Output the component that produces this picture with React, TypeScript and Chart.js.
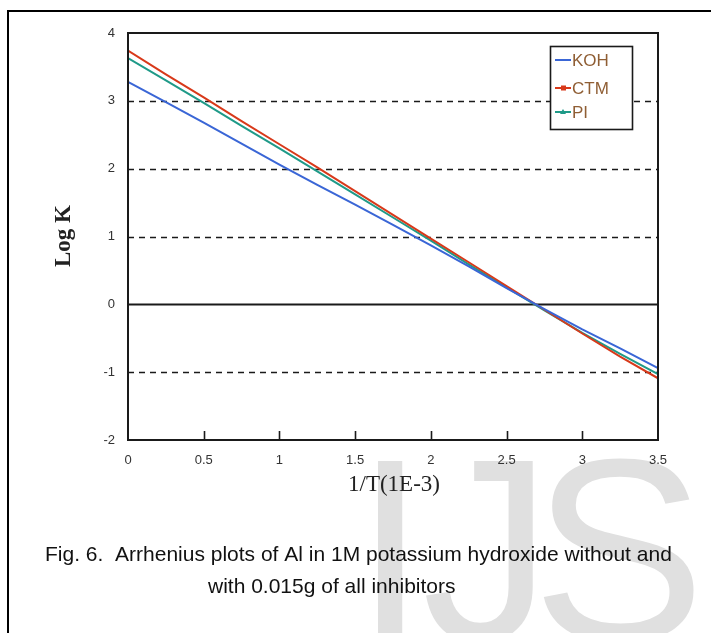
import React, { useEffect, useRef } from "react";
import { Chart, registerables } from "chart.js";

Chart.register(...registerables);

const invT = [0, 0.25, 0.5, 0.75, 1, 1.25, 1.5, 1.75, 2, 2.25, 2.5, 2.75, 3, 3.25, 3.5];
const kohLogK = [3.28, 2.98, 2.68, 2.37, 2.06, 1.76, 1.47, 1.17, 0.87, 0.56, 0.24, -0.07, -0.37, -0.65, -0.94];
const ctmLogK = [3.74, 3.39, 3.05, 2.7, 2.36, 2.02, 1.67, 1.32, 0.97, 0.62, 0.27, -0.08, -0.43, -0.77, -1.09];
const piLogK = [3.63, 3.3, 2.97, 2.63, 2.3, 1.96, 1.62, 1.28, 0.94, 0.59, 0.25, -0.09, -0.42, -0.73, -1.03];

const seriesNames = ["KOH", "CTM", "PI"];
const seriesColors = ["#3a66d6", "#d8391a", "#1f9a88"];
const xMin = 0;
const xMax = 3.5;
const xStep = 0.5;
const yMin = -2;
const yMax = 4;
const yStep = 1;
const xTitle = "1/T(1E-3)";
const yTitle = "Log K";
const captionLine1 = "Fig. 6.  Arrhenius plots of Al in 1M potassium hydroxide without and";
const captionLine2 = "with 0.015g of all inhibitors";
const watermark = ["I", "J", "S"];

const SANS = "'Liberation Sans', Arial, sans-serif";
const SERIF = "'Liberation Serif', 'Times New Roman', serif";

const pagePlugin = {
  id: "page",
  beforeDraw(chart: any) {
    const ctx = chart.ctx;
    ctx.save();
    ctx.fillStyle = "#ffffff";
    ctx.fillRect(0, 0, chart.width, chart.height);
    // watermark
    ctx.fillStyle = "#e0e0e0";
    ctx.font = `260px ${SANS}`;
    ctx.textBaseline = "alphabetic";
    ctx.textAlign = "left";
    const wx = [354, 422, 532];
    watermark.forEach((ch, i) => ctx.fillText(ch, wx[i], 640));
    // outer frame
    ctx.strokeStyle = "#000";
    ctx.lineWidth = 2;
    ctx.beginPath();
    ctx.moveTo(8, chart.height);
    ctx.lineTo(8, 11);
    ctx.lineTo(chart.width, 11);
    ctx.stroke();
    // caption
    ctx.fillStyle = "#111";
    ctx.font = `21px ${SANS}`;
    ctx.fillText(captionLine1, 45, 561);
    ctx.fillText(captionLine2, 208, 593);
    ctx.restore();
  },
  beforeDatasetsDraw(chart: any) {
    const ctx = chart.ctx;
    const { left, right } = chart.chartArea;
    const ys = chart.scales.y;
    ctx.save();
    ctx.strokeStyle = "#1a1a1a";
    for (let v = yMin + yStep; v < yMax; v += yStep) {
      const py = Math.round(ys.getPixelForValue(v)) + 0.5;
      ctx.setLineDash(v === 0 ? [] : [6, 5]);
      ctx.lineWidth = v === 0 ? 1.8 : 1.6;
      ctx.beginPath();
      ctx.moveTo(left, py);
      ctx.lineTo(right, py);
      ctx.stroke();
    }
    ctx.restore();
  },
  afterDatasetsDraw(chart: any) {
    const ctx = chart.ctx;
    const { left, right, top, bottom } = chart.chartArea;
    const xs = chart.scales.x;
    ctx.save();
    ctx.strokeStyle = "#1a1a1a";
    ctx.lineWidth = 2;
    ctx.setLineDash([]);
    ctx.strokeRect(left, top, right - left, bottom - top);
    ctx.lineWidth = 1.6;
    for (let v = xMin + xStep; v < xMax; v += xStep) {
      const px = Math.round(xs.getPixelForValue(v)) + 0.5;
      ctx.beginPath();
      ctx.moveTo(px, bottom);
      ctx.lineTo(px, bottom - 9);
      ctx.stroke();
    }
    ctx.restore();
  },
  afterDraw(chart: any) {
    const ctx = chart.ctx;
    ctx.save();
    ctx.fillStyle = "#222";
    ctx.textAlign = "center";
    ctx.textBaseline = "middle";
    ctx.font = `23px ${SERIF}`;
    ctx.fillText(xTitle, 394, 485);
    ctx.translate(64, 236);
    ctx.rotate(-Math.PI / 2);
    ctx.font = `bold 23px ${SERIF}`;
    ctx.fillText(yTitle, 0, 0);
    ctx.restore();

    // legend
    ctx.save();
    const bx = 550, by = 46, bw = 82, bh = 83;
    ctx.fillStyle = "#fff";
    ctx.fillRect(bx, by, bw, bh);
    ctx.strokeStyle = "#1a1a1a";
    ctx.lineWidth = 1.6;
    ctx.strokeRect(bx + 0.5, by + 0.5, bw, bh);
    const rowY = [60, 88, 112];
    ctx.font = `17px ${SANS}`;
    ctx.textAlign = "left";
    ctx.textBaseline = "middle";
    seriesNames.forEach((name, i) => {
      const yy = rowY[i];
      ctx.strokeStyle = seriesColors[i];
      ctx.lineWidth = 2;
      ctx.beginPath();
      ctx.moveTo(555, yy);
      ctx.lineTo(571, yy);
      ctx.stroke();
      ctx.fillStyle = seriesColors[i];
      if (i === 1) ctx.fillRect(561, yy - 2.5, 5, 5);
      if (i === 2) {
        ctx.beginPath();
        ctx.moveTo(563, yy - 3);
        ctx.lineTo(566, yy + 2);
        ctx.lineTo(560, yy + 2);
        ctx.closePath();
        ctx.fill();
      }
      ctx.fillStyle = "#8f5e34";
      ctx.fillText(name, 572, yy + 1);
    });
    ctx.restore();
  },
};

export default function App() {
  const ref = useRef<HTMLCanvasElement | null>(null);
  useEffect(() => {
    if (!ref.current) return;
    const mk = (vals: number[]) => invT.map((x, i) => ({ x, y: vals[i] }));
    const chart = new Chart(ref.current, {
      type: "line",
      data: {
        datasets: [
          { label: seriesNames[0], data: mk(kohLogK), borderColor: seriesColors[0], backgroundColor: seriesColors[0], borderWidth: 2, pointRadius: 0, tension: 0 },
          { label: seriesNames[1], data: mk(ctmLogK), borderColor: seriesColors[1], backgroundColor: seriesColors[1], borderWidth: 2, pointRadius: 0, tension: 0 },
          { label: seriesNames[2], data: mk(piLogK), borderColor: seriesColors[2], backgroundColor: seriesColors[2], borderWidth: 2, pointRadius: 0, tension: 0 },
        ],
      },
      options: {
        responsive: false,
        animation: false,
        layout: { padding: { top: 33, right: 53, left: 0, bottom: 0 } },
        plugins: { legend: { display: false }, tooltip: { enabled: false } },
        scales: {
          x: {
            type: "linear",
            min: xMin,
            max: xMax,
            afterFit: (s: any) => { s.height = 193; },
            grid: { display: false, drawTicks: false },
            border: { display: false },
            ticks: {
              stepSize: xStep,
              padding: 13,
              color: "#333",
              font: { family: SANS, size: 13 },
              callback: (v: any) => String(Number(v)),
            },
          },
          y: {
            type: "linear",
            min: yMin,
            max: yMax,
            afterFit: (s: any) => { s.width = 128; },
            grid: { display: false, drawTicks: false },
            border: { display: false },
            ticks: {
              stepSize: yStep,
              padding: 13,
              color: "#333",
              font: { family: SANS, size: 13 },
              callback: (v: any) => String(Number(v)),
            },
          },
        },
      },
      plugins: [pagePlugin],
    });
    return () => chart.destroy();
  }, []);
  return (
    <div style={{ position: "absolute", left: 0, top: 0, width: 711, height: 633 }}>
      <canvas ref={ref} width={711} height={633} style={{ display: "block" }} />
    </div>
  );
}
